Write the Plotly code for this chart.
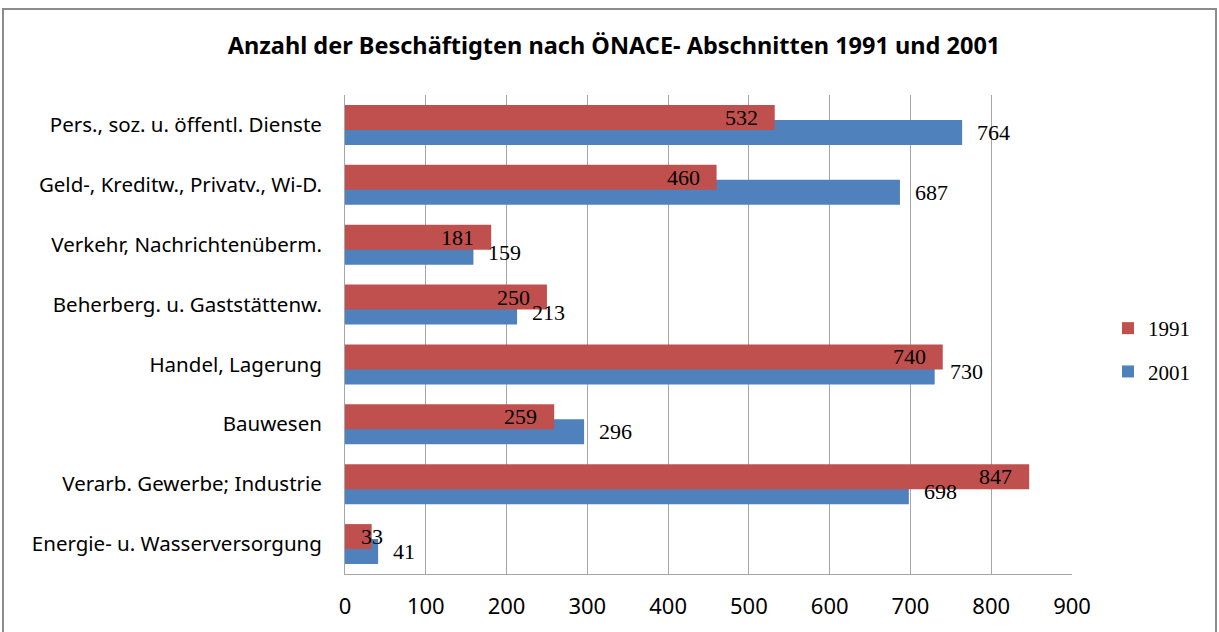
import plotly.graph_objects as go

categories = ["Energie- u. Wasserversorgung", "Verarb. Gewerbe; Industrie", "Bauwesen",
              "Handel, Lagerung", "Beherberg. u. Gaststättenw.", "Verkehr, Nachrichtenüberm.",
              "Geld-, Kreditw., Privatv., Wi-D.", "Pers., soz. u. öffentl. Dienste"]
v1991 = [33, 847, 259, 740, 250, 181, 460, 532]
v2001 = [41, 698, 296, 730, 213, 159, 687, 764]
x_ticks = [0, 100, 200, 300, 400, 500, 600, 700, 800, 900]
title = "Anzahl der Beschäftigten nach ÖNACE- Abschnitten 1991 und 2001"

RED = "#C0504D"
BLUE = "#4F81BD"
SANS = "Noto Sans"
SERIF = "Liberation Serif"
BW = 25 / 60
idx = list(range(len(categories)))

fig = go.Figure()
fig.add_trace(go.Bar(name="2001", x=v2001, y=[i - 0.125 for i in idx], width=BW,
                     orientation="h", marker=dict(color=BLUE, line=dict(width=0)),
                     legendgroup="g2001", legendrank=2))
fig.add_trace(go.Bar(name="1991", x=v1991, y=[i + 0.125 for i in idx], width=BW,
                     orientation="h", marker=dict(color=RED, line=dict(width=0)),
                     legendgroup="g1991", legendrank=1))

plot_w = 1219 - 345 - 147
px_per_unit = plot_w / 900
lab_font = dict(family=SERIF, size=22, color="black")
ann = []
for i, v in enumerate(v1991):
    if v * px_per_unit > 60:
        ann.append(dict(x=v, y=i + 0.125, text=str(v), xanchor="right", xshift=-15,
                        showarrow=False, font=lab_font))
    else:
        ann.append(dict(x=v, y=i + 0.125, text=str(v), xanchor="center", xshift=0,
                        showarrow=False, font=lab_font))
for i, v in enumerate(v2001):
    ann.append(dict(x=v, y=i - 0.125, text=str(v), xanchor="left", xshift=13,
                    showarrow=False, font=lab_font))

fig.update_layout(
    width=1219, height=632,
    margin=dict(l=345, r=147, t=95, b=58, autoexpand=False),
    paper_bgcolor="white", plot_bgcolor="white",
    barmode="overlay",
    title=dict(text="<b>" + title + "</b>", x=614 / 1219, xanchor="center",
               y=1 - 46 / 632, yanchor="middle",
               font=dict(family=SANS, size=23.5, color="black")),
    showlegend=True,
    legend=dict(x=(1108 - 345) / plot_w, y=(574 - 350) / 479, xanchor="left", yanchor="middle",
                traceorder="grouped", tracegroupgap=13, itemwidth=30,
                font=dict(family=SERIF, size=21, color="black"),
                bgcolor="rgba(0,0,0,0)"),
    annotations=ann,
    shapes=[dict(type="rect", xref="paper", yref="paper",
                 x0=(3 - 345) / plot_w, x1=(1216 - 345) / plot_w,
                 y0=(574 - 645) / 479, y1=(574 - 9) / 479,
                 line=dict(color="#8c8c8c", width=2), fillcolor="rgba(0,0,0,0)", layer="below")],
)
fig.update_xaxes(range=[0, 900], tickvals=x_ticks, ticktext=[str(t) for t in x_ticks],
                 showgrid=True, gridcolor="#a6a6a6", gridwidth=1,
                 showline=True, linecolor="#a6a6a6", linewidth=1, mirror=False,
                 zeroline=False, ticks="", ticklabelstandoff=13,
                 tickfont=dict(family=SANS, size=22, color="black"))
fig.update_yaxes(range=[-0.5, 7.5], tickvals=idx, ticktext=categories,
                 showgrid=False, showline=True, linecolor="#a6a6a6", linewidth=1,
                 zeroline=False, ticks="", ticklabelstandoff=18,
                 tickfont=dict(family=SANS, size=20.5, color="black"))
fig.write_html("out.html", config={"displayModeBar": False},
               post_script="document.body.style.margin='0';")
